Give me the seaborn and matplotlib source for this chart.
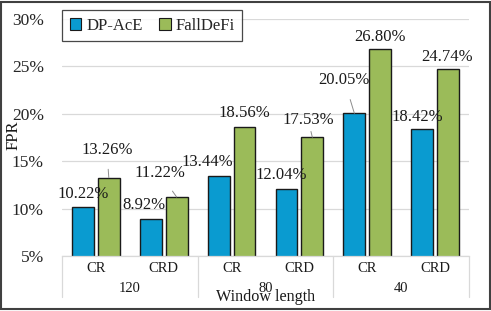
"""FPR of DP-AcE vs FallDeFi by window length and setting."""
import matplotlib.pyplot as plt
import matplotlib.transforms as mtransforms
import pandas as pd
import seaborn as sns
from matplotlib.patches import Rectangle

windows = ["120", "120", "80", "80", "40", "40"]
settings = ["CR", "CRD", "CR", "CRD", "CR", "CRD"]
dp_acE = [10.22, 8.92, 13.44, 12.04, 20.05, 18.42]
falldefi = [13.26, 11.22, 18.56, 17.53, 26.80, 24.74]
methods = ["DP-AcE", "FallDeFi"]

# label offsets (pixels) from the bar top; True -> draw a leader line
dp_off = [(0, 13, False), (-7, 14, False), (-11, 14, False), (-5, 14, False), (-10, 33, True), (-5, 12, False)]
fd_off = [(-2, 28, True), (-17, 24, True), (0, 14, False), (-4, 17, True), (0, 12, False), (-1, 12, False)]

keys = [f"{w}-{s}" for w, s in zip(windows, settings)]
df = pd.DataFrame({
    "key": keys * 2,
    "method": [methods[0]] * 6 + [methods[1]] * 6,
    "fpr": dp_acE + falldefi,
})

sns.set_theme(style="white")
plt.rcParams["font.family"] = ["Liberation Serif", "DejaVu Serif"]

W, H = 491, 311
fig = plt.figure(figsize=(W / 100, H / 100), dpi=100)
ax = fig.add_axes([62 / W, 55 / H, (469 - 62) / W, (256 - 19) / H])

colors = {"DP-AcE": "#0a9bd0", "FallDeFi": "#9bbb59"}
sns.barplot(data=df, x="key", y="fpr", hue="method", order=keys, palette=colors, saturation=1,
            width=0.76, gap=0.15, edgecolor="#1a1a1a", linewidth=1.0, ax=ax, legend=True)

ax.set_ylim(5, 30)
ax.set_xlim(-0.5, 5.5)
ax.set_yticks([5, 10, 15, 20, 25, 30])
ax.set_yticklabels([f"{v}%" for v in [5, 10, 15, 20, 25, 30]], fontsize=12.5)
ax.tick_params(axis="y", length=0, pad=13)
ax.set_ylabel("")
ax.set_xlabel("")
ax.set_xticks([])
fig.text(14 / W, 1 - 135 / H, "FPR", rotation=90, ha="center", va="center", fontsize=12, color="#1a1a1a")
ax.yaxis.grid(True, color="#d9d9d9", linewidth=0.9)
ax.set_axisbelow(True)
for side in ["left", "right", "top"]:
    ax.spines[side].set_visible(False)
ax.spines["bottom"].set_color("#d9d9d9")
ax.spines["bottom"].set_linewidth(0.9)

# value labels
for cont, offs in zip(ax.containers, [dp_off, fd_off]):
    for bar, (dx, dy, lead) in zip(cont, offs):
        x = bar.get_x() + bar.get_width() / 2
        y = bar.get_height() + bar.get_y()
        props = None
        if lead:
            props = dict(arrowstyle="-", color="#8c8c8c", lw=0.7, shrinkA=6, shrinkB=0)
        ax.annotate(f"{y:.2f}%", xy=(x, y), xytext=(dx, dy), textcoords="offset pixels",
                    ha="center", va="center", fontsize=12, color="#1a1a1a",
                    arrowprops=props, annotation_clip=False)

# two-level category axis
trans = mtransforms.blended_transform_factory(ax.transData, ax.transAxes)
px = 1 / (256 - 19)
for i, s in enumerate(settings):
    ax.text(i, -12 * px, s, transform=trans, ha="center", va="center", fontsize=10.5, color="#1a1a1a")
for j in range(3):
    ax.text(2 * j + 0.5, -32 * px, windows[2 * j], transform=trans, ha="center", va="center",
            fontsize=10.5, color="#1a1a1a")
for xb in [-0.5, 1.5, 3.5, 5.5]:
    ax.plot([xb, xb], [0, -41 * px], transform=trans, color="#d9d9d9", lw=0.9, clip_on=False)
fig.text(266 / W, 1 - 297 / H, "Window length", ha="center", va="center", fontsize=11.6, color="#1a1a1a")

leg = ax.legend(loc="upper left", bbox_to_anchor=(62 / W, 1 - 10 / H), bbox_transform=fig.transFigure,
                ncol=2, fontsize=12, frameon=True, fancybox=False, borderaxespad=0,
                handlelength=0.7, handleheight=0.7, handletextpad=0.3, columnspacing=1.0,
                borderpad=0.45)
leg.get_frame().set_edgecolor("#1a1a1a")
leg.get_frame().set_linewidth(0.9)
for h in leg.legend_handles:
    h.set_edgecolor("#1a1a1a")
    h.set_linewidth(0.8)

fig.patches.append(Rectangle((0.003, 0.005), 0.994, 0.99, transform=fig.transFigure,
                             fill=False, edgecolor="#404040", linewidth=1.5))

fig.savefig("out.png", dpi=100)
